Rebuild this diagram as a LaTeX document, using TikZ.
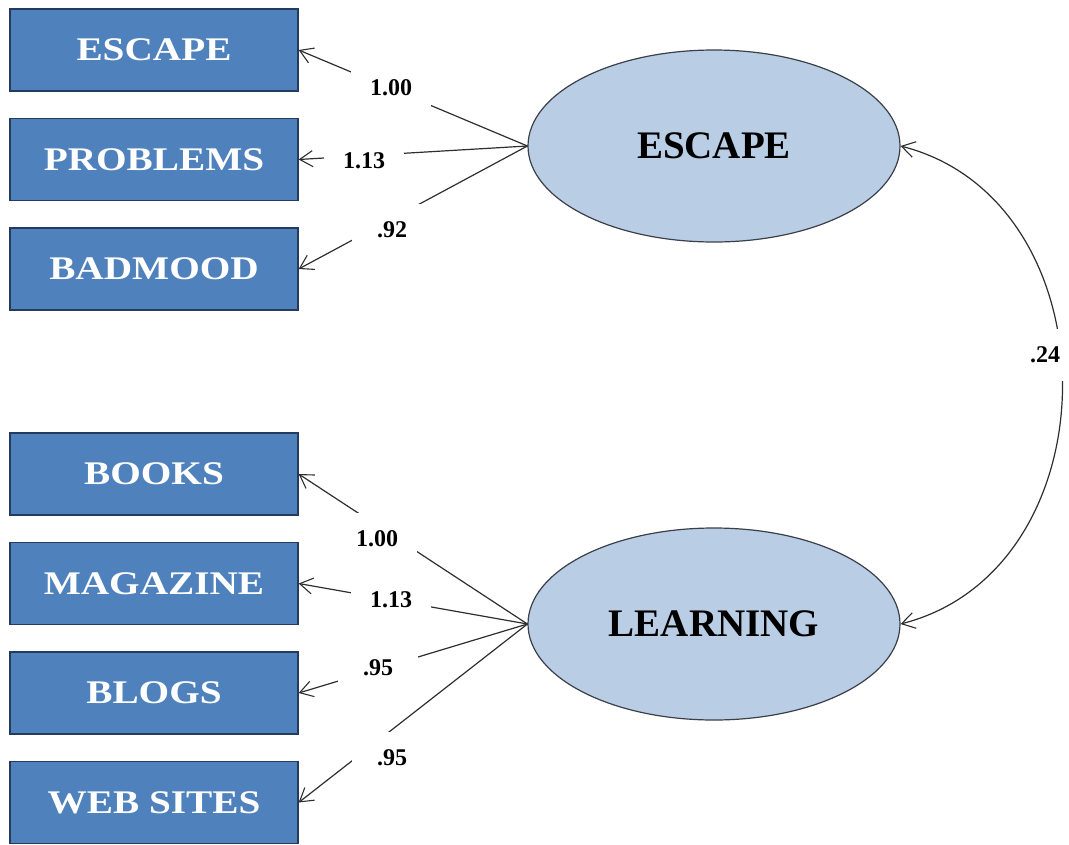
\documentclass[tikz,border=0pt]{standalone}
\usepackage{fontspec}
\setmainfont{Liberation Serif}
\newfontfamily\boxfont[FakeStretch=1.19]{Liberation Serif}
\usetikzlibrary{arrows.meta,shapes.geometric}

\definecolor{boxblue}{HTML}{4F81BD}
\definecolor{boxedge}{HTML}{243A5E}
\definecolor{latentfill}{HTML}{B9CDE5}
\definecolor{latentedge}{HTML}{3A3F48}
\definecolor{pathgray}{HTML}{2E2E2E}

\tikzset{
  barb/.tip={Straight Barb[length=13pt,width=16pt,line width=1.1pt]},
  indicator/.style={rectangle, draw=boxedge, line width=1.3pt, fill=boxblue,
    minimum width=288pt, minimum height=82pt, inner sep=0pt,
    text=white, font=\boxfont\fontsize{33pt}{36pt}\selectfont\bfseries},
  latent/.style={ellipse, draw=latentedge, line width=1.2pt, fill=latentfill,
    minimum width=372pt, minimum height=192pt, inner sep=0pt,
    font=\fontsize{39pt}{42pt}\selectfont\bfseries},
  loading/.style={draw=pathgray, line width=1.2pt, -barb},
  covpath/.style={draw=pathgray, line width=1.2pt, barb-barb},
  coef/.style={fill=white, inner sep=0pt, minimum width=80pt, minimum height=52pt,
    font=\fontsize{24pt}{27pt}\selectfont\bfseries}
}

\begin{document}
\begin{tikzpicture}[x=1pt,y=-1pt]
\useasboundingbox (0,0) rectangle (1069,844);

% observed indicators
\node[indicator] (esc)   at (154,50)    {ESCAPE};
\node[indicator] (prob)  at (154,159.5) {PROBLEMS};
\node[indicator] (bad)   at (154,269)   {BADMOOD};
\node[indicator] (books) at (154,474)   {BOOKS};
\node[indicator] (mag)   at (154,583.5) {MAGAZINE};
\node[indicator] (blogs) at (154,693)   {BLOGS};
\node[indicator] (web)   at (154,802.5) {WEB SITES};

% latent factors
\node[latent] (fesc)  at (714,146) {ESCAPE};
\node[latent] (flearn) at (714,624) {LEARNING};

% factor loadings
\draw[loading] (fesc.west) -- (esc.east);
\draw[loading] (fesc.west) -- (prob.east);
\draw[loading] (fesc.west) -- (bad.east);
\draw[loading] (flearn.west) -- (books.east);
\draw[loading] (flearn.west) -- (mag.east);
\draw[loading] (flearn.west) -- (blogs.east);
\draw[loading] (flearn.west) -- (web.east);

% factor covariance
\draw[covpath] (fesc.east) .. controls (1116,201) and (1116,569) .. (flearn.east);

% coefficients
\node[coef] (c1) at (391,88)  {1.00};
\node[coef] (c2) at (364,161) {1.13};
\node[coef] (c3) at (392,230) {.92};
\node[coef] (c4) at (377,539) {1.00};
\node[coef] (c5) at (391,600) {1.13};
\node[coef] (c6) at (378,668) {.95};
\node[coef] (c7) at (392,758) {.95};
\node[coef] (c8) at (1045,355) {.24};
\end{tikzpicture}
\end{document}
